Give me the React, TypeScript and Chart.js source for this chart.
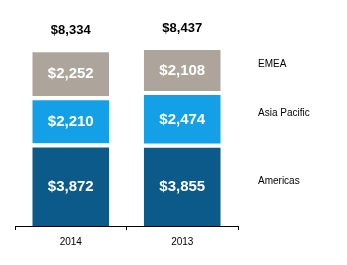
import React, { useEffect, useRef } from "react";
import { Chart, registerables } from "chart.js";

Chart.register(...registerables);

// Revenue by region, in $ millions
const years = ["2014", "2013"];
const americas = [3872, 3855];
const asiaPacific = [2210, 2474];
const emea = [2252, 2108];
const regionNames = ["Americas", "Asia Pacific", "EMEA"];
const regionColors = ["#0b5a8a", "#14a0e6", "#ada49c"];

const FONT = "'Liberation Sans', Arial, Helvetica, sans-serif";
const GAP = 4;

const fmt = (v: number) => "$" + v.toLocaleString("en-US");

const labelsPlugin = {
  id: "segmentLabels",
  afterDatasetsDraw(chart: any) {
    const ctx = chart.ctx as CanvasRenderingContext2D;
    const area = chart.chartArea;
    const nSets = chart.data.datasets.length;
    ctx.save();

    // values inside each segment
    chart.data.datasets.forEach((ds: any, di: number) => {
      const meta = chart.getDatasetMeta(di);
      meta.data.forEach((el: any, i: number) => {
        const cy = (el.y + GAP + el.base) / 2;
        ctx.fillStyle = "#ffffff";
        ctx.font = `bold 15px ${FONT}`;
        ctx.textAlign = "center";
        ctx.textBaseline = "middle";
        ctx.fillText(fmt(ds.data[i]), el.x, cy);
      });
    });

    // totals above each stack
    const topMeta = chart.getDatasetMeta(nSets - 1);
    topMeta.data.forEach((el: any, i: number) => {
      let total = 0;
      chart.data.datasets.forEach((ds: any) => (total += ds.data[i]));
      ctx.fillStyle = "#000000";
      ctx.font = `bold 13px ${FONT}`;
      ctx.textAlign = "center";
      ctx.textBaseline = "middle";
      ctx.fillText(fmt(total), el.x, el.y - 18);
    });

    // region names beside the last stack
    const last = years.length - 1;
    chart.data.datasets.forEach((ds: any, di: number) => {
      const el = chart.getDatasetMeta(di).data[last];
      const cy = (el.y + GAP + el.base) / 2 - 6;
      ctx.fillStyle = "#000000";
      ctx.font = `10px ${FONT}`;
      ctx.textAlign = "left";
      ctx.textBaseline = "middle";
      ctx.fillText(ds.label, area.right + 20, cy);
    });

    ctx.restore();
  },
};

export default function App() {
  const canvasRef = useRef<HTMLCanvasElement | null>(null);

  useEffect(() => {
    if (!canvasRef.current) return;
    const series = [americas, asiaPacific, emea];
    const chart = new Chart(canvasRef.current, {
      type: "bar",
      data: {
        labels: years,
        datasets: series.map((values, i) => ({
          label: regionNames[i],
          data: values,
          backgroundColor: regionColors[i],
          borderColor: "#ffffff",
          borderWidth: { top: GAP, right: 0, bottom: 0, left: 0 },
          borderSkipped: false,
          barPercentage: 0.69,
          categoryPercentage: 1,
        })),
      },
      options: {
        responsive: false,
        animation: false,
        layout: { padding: { left: 15, right: 109, top: 0, bottom: 11 } },
        plugins: {
          legend: { display: false },
          tooltip: { enabled: false },
          title: { display: false },
        },
        scales: {
          x: {
            stacked: true,
            grid: {
              display: true,
              drawOnChartArea: false,
              drawTicks: true,
              tickLength: 4,
              color: "#000000",
              offset: true,
            },
            border: { display: true, color: "#000000", width: 1 },
            ticks: {
              color: "#000000",
              font: { family: FONT, size: 10 },
              padding: 6,
            },
          },
          y: {
            stacked: true,
            display: false,
            min: 0,
            max: 10600,
          },
        },
      },
      plugins: [labelsPlugin],
    });
    return () => chart.destroy();
  }, []);

  return (
    <div style={{ position: "fixed", left: 0, top: 0, width: 347, height: 265, background: "#ffffff" }}>
      <canvas ref={canvasRef} width={347} height={265} style={{ display: "block" }} />
    </div>
  );
}
